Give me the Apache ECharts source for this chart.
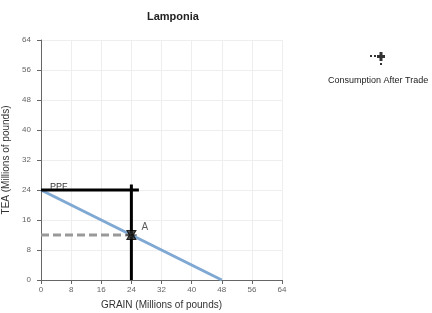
<!DOCTYPE html>
<html>
<head>
<meta charset="utf-8">
<script src="https://cdn.jsdelivr.net/npm/echarts@6/dist/echarts.min.js"></script>
<style>
  html, body { margin: 0; padding: 0; background: #fff; }
  #chart { width: 432px; height: 313px; }
</style>
</head>
<body>
<div id="chart"></div>
<script>
// data
var ppfLine = [[0, 24], [48, 0]];
var tradeH = [[0, 24], [26, 24]];
var tradeV = [[24, 0], [24, 25.5]];
var consumptionDash = [[0, 12], [24, 12]];
var pointA = [[24, 12]];
var axisTicks = [0, 8, 16, 24, 32, 40, 48, 56, 64];

var starPath = 'path://M0,0 L10,0 L7,5 L10,10 L0,10 L3,5 Z M-1,5 L11,5';

var chart = echarts.init(document.getElementById('chart'));
chart.setOption({
  animation: false,
  title: {
    text: 'Lamponia',
    left: 142,
    top: 6,
    textStyle: { fontSize: 11, fontWeight: 'bold', color: '#222', fontFamily: 'Arial' }
  },
  grid: { left: 41, right: 150, top: 40, bottom: 33, outerBoundsMode: 'none', containLabel: false },
  xAxis: {
    type: 'value', min: axisTicks[0], max: axisTicks[axisTicks.length - 1], interval: 8,
    name: 'GRAIN (Millions of pounds)',
    nameLocation: 'middle', nameGap: 20,
    nameTextStyle: { fontSize: 10, color: '#333', fontFamily: 'Arial' },
    axisLine: { lineStyle: { color: '#666' } },
    axisTick: { show: true, length: 4, lineStyle: { color: '#666' } },
    axisLabel: { fontSize: 8, color: '#666', margin: 6 },
    splitLine: { lineStyle: { color: '#eee' } }
  },
  yAxis: {
    type: 'value', min: axisTicks[0], max: axisTicks[axisTicks.length - 1], interval: 8,
    name: 'TEA (Millions of pounds)',
    nameLocation: 'middle', nameGap: 25,
    nameTextStyle: { fontSize: 10, color: '#333', fontFamily: 'Arial' },
    axisLine: { show: true, lineStyle: { color: '#666' } },
    axisTick: { show: true, length: 4, lineStyle: { color: '#666' } },
    axisLabel: { fontSize: 8, color: '#666', margin: 10 },
    splitLine: { lineStyle: { color: '#eee' } }
  },
  graphic: [
    {
      type: 'text', left: 328, top: 76,
      style: { text: 'Consumption After Trade', fontSize: 9, fill: '#222', fontFamily: 'Arial' }
    },
    {
      type: 'group', left: 370, top: 52,
      children: [
        { type: 'rect', shape: { x: 0, y: 3, width: 2, height: 2 }, style: { fill: '#333' } },
        { type: 'rect', shape: { x: 4, y: 3, width: 2, height: 2 }, style: { fill: '#333' } },
        { type: 'rect', shape: { x: 7, y: 3, width: 8, height: 3 }, style: { fill: '#333' } },
        { type: 'rect', shape: { x: 9.5, y: 0, width: 3, height: 9 }, style: { fill: '#333' } },
        { type: 'rect', shape: { x: 10, y: 11, width: 2, height: 2 }, style: { fill: '#333' } }
      ]
    }
  ],
  series: [
    {
      name: 'PPF', type: 'line', data: ppfLine,
      showSymbol: false, symbol: 'none',
      lineStyle: { color: '#7fa8d3', width: 3 },
      markPoint: {
        symbol: 'circle', symbolSize: 0,
        label: { show: true, formatter: 'PPF', position: 'right', offset: [4, -3], fontSize: 9, color: '#333' },
        data: [{ coord: ppfLine[0] }]
      }
    },
    {
      name: 'Trade H', type: 'line', data: tradeH, symbol: 'none',
      lineStyle: { color: '#000', width: 3 }
    },
    {
      name: 'Trade V', type: 'line', data: tradeV, symbol: 'none',
      lineStyle: { color: '#000', width: 3 }
    },
    {
      name: 'Consumption After Trade', type: 'line', data: consumptionDash, symbol: 'none',
      lineStyle: { color: '#999', width: 3, type: [8, 4] }
    },
    {
      name: 'A', type: 'scatter', data: pointA,
      symbol: starPath, symbolSize: [11, 9],
      itemStyle: { color: '#222', borderColor: '#000', borderWidth: 1 },
      label: { show: true, formatter: 'A', position: 'right', offset: [-1, -8], fontSize: 10, color: '#333' },
      z: 5
    }
  ]
});
</script>
</body>
</html>
